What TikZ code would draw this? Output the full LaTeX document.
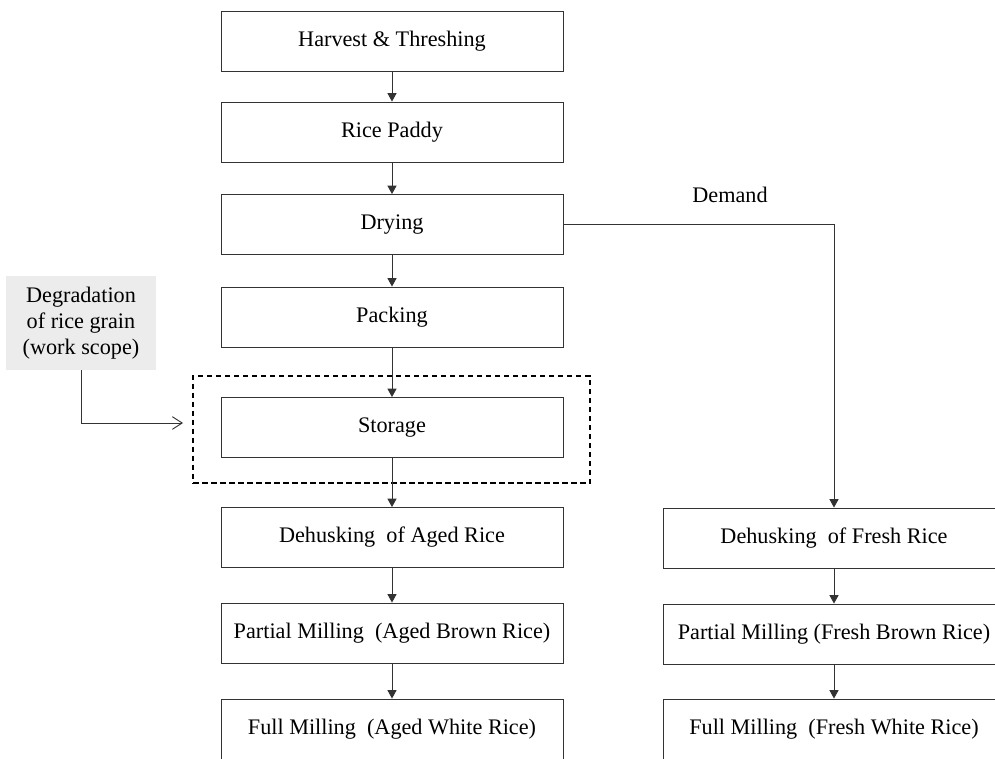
\documentclass[tikz,border=0pt]{standalone}
\usepackage{fontspec}
\setmainfont{Liberation Serif}
\usepackage{xcolor}
\usetikzlibrary{positioning, arrows.meta, calc}
\definecolor{lineGray}{HTML}{333333}
\definecolor{noteGray}{HTML}{ECECEC}

\begin{document}
\begin{tikzpicture}[
  x=0.025cm, y=-0.025cm,
  stage/.style={draw=lineGray, line width=0.65pt, minimum width=8.55cm,
                minimum height=1.5cm, align=center,
                font=\fontsize{15.8}{19}\selectfont},
  flow/.style={draw=lineGray, line width=0.65pt,
               -{Triangle[length=6pt, width=6.5pt]}},
  note/.style={fill=noteGray, minimum width=3.75cm, minimum height=2.35cm,
               align=center, font=\fontsize{15.8}{18.5}\selectfont},
  scopebox/.style={draw, line width=1.3pt, dash pattern=on 4pt off 2.4pt,
                   minimum width=9.925cm, minimum height=2.675cm},
]
  \useasboundingbox (0,0) rectangle (995,758);

  % aged rice chain
  \node[stage] (harvest) at (392,41) {Harvest \& Threshing};
  \node[stage] (paddy) at (392,132) {Rice Paddy};
  \node[stage] (drying) at (392,224.5) {Drying};
  \node[stage] (packing) at (392,317) {Packing};
  \node[scopebox] (scope) at (391.5,429.5) {};
  \node[stage] (storage) at (392,427.5) {Storage};
  \node[stage] (agedDehusk) at (392,537.5) {Dehusking\ \ of Aged Rice};
  \node[stage] (agedBrown) at (392,633) {Partial Milling\ \ (Aged Brown Rice)};
  \node[stage] (agedWhite) at (392,729) {Full Milling\ \ (Aged White Rice)};

  % fresh rice chain
  \node[stage] (freshDehusk) at (834,538) {Dehusking\ \ of Fresh Rice};
  \node[stage] (freshBrown) at (834,634) {Partial Milling (Fresh Brown Rice)};
  \node[stage] (freshWhite) at (834,729) {Full Milling\ \ (Fresh White Rice)};

  \node[font=\fontsize{15.8}{19}\selectfont] (demand) at (730,195) {Demand};

  \node[note] (degrade) at (81,323) {Degradation\\of rice grain\\(work scope)};
  \coordinate (scopeIn) at (183,423);

  \draw[flow] (harvest) -- (paddy);
  \draw[flow] (paddy) -- (drying);
  \draw[flow] (drying) -- (packing);
  \draw[flow] (packing) -- (storage);
  \draw[flow] (storage) -- (agedDehusk);
  \draw[flow] (agedDehusk) -- (agedBrown);
  \draw[flow] (agedBrown) -- (agedWhite);
  \draw[flow] (drying.east) -| (freshDehusk.north);
  \draw[flow] (freshDehusk) -- (freshBrown);
  \draw[flow] (freshBrown) -- (freshWhite);
  \draw[draw=lineGray, line width=0.65pt, -{Straight Barb[length=7pt, width=9pt]}]
    (degrade.south) |- (scopeIn);
\end{tikzpicture}
\end{document}
